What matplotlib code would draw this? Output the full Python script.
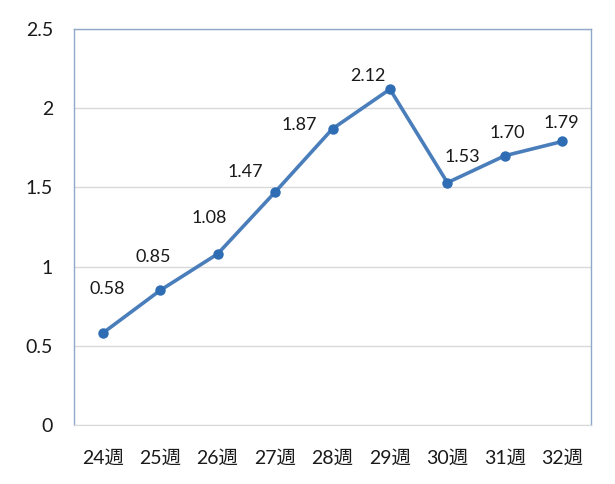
import matplotlib.pyplot as plt

weeks = ['24週', '25週', '26週', '27週', '28週', '29週', '30週', '31週', '32週']
values = [0.58, 0.85, 1.08, 1.47, 1.87, 2.12, 1.53, 1.70, 1.79]
# label offsets in pixels (dx, dy), Excel-style placement
label_offsets = [(5, 44), (-7, 33), (-8, 36), (-30, 20), (-33, 4),
                 (-22, 13), (15, 26), (2, 23), (-1, 18)]

plt.rcParams['font.family'] = ['Lato', 'Noto Sans CJK JP', 'DejaVu Sans']

fig = plt.figure(figsize=(6.15, 4.84), dpi=100)
ax = fig.add_axes([74 / 615, 59 / 484, 517 / 615, 396 / 484])

x = list(range(len(weeks)))
ax.plot(x, values, color='#4a7ebb', linewidth=2.6, marker='o',
        markersize=6.5, markerfacecolor='#2e6db4', markeredgecolor='#2e6db4',
        zorder=3)

for xi, v, (dx, dy) in zip(x, values, label_offsets):
    ax.annotate(f'{v:.2f}', (xi, v), xytext=(dx, dy), textcoords='offset pixels',
                ha='center', va='center', fontsize=13, color='#1a1a1a')

ax.set_xlim(-0.5, len(weeks) - 0.5)
ax.set_ylim(0, 2.5)
ax.set_yticks([0, 0.5, 1, 1.5, 2, 2.5])
ax.set_yticklabels(['0', '0.5', '1', '1.5', '2', '2.5'])
ax.set_xticks(x)
ax.set_xticklabels(weeks)
ax.tick_params(axis='both', length=0, labelsize=14, labelcolor='#1a1a1a')
ax.tick_params(axis='y', pad=15)
ax.tick_params(axis='x', pad=18)

ax.grid(axis='y', color='#d9d9d9', linewidth=1)
ax.set_axisbelow(True)
for side in ['top', 'left', 'right']:
    ax.spines[side].set_color('#8fa8c8')
    ax.spines[side].set_linewidth(1)
ax.spines['bottom'].set_color('#d9d9d9')

plt.savefig('out.png', dpi=100)
